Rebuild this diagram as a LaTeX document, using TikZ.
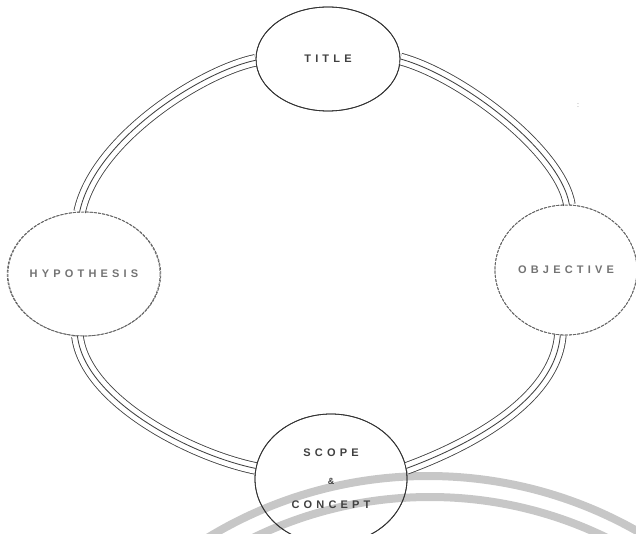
\documentclass[tikz,border=0pt]{standalone}
\usepackage{fontspec}
\setmainfont{Liberation Sans}
\newfontfamily\labfont[LetterSpace=38]{Liberation Sans}
\usetikzlibrary{shapes.geometric}
\begin{document}
\begin{tikzpicture}[x=1pt,y=-1pt,
  lab/.style={font=\labfont\bfseries\fontsize{11}{13}\selectfont, text=black!75, align=center},
  bub/.style={ellipse, draw=black!80, line width=0.8pt, inner sep=0pt, lab},
  faint/.style={draw=black!60, dash pattern=on 3pt off 1.2pt, text=black!55},
  triple/.style={draw=black!75, line width=12.5pt,
    postaction={draw=white, line width=10.8pt},
    postaction={draw=black!75, line width=0.85pt}},
  wm/.style={draw=black!22, line width=8pt}]
\useasboundingbox (0,0) rectangle (636,534);
% faint watermark arcs
\begin{scope}
  \clip (0,0) rectangle (636,534);
  \draw[wm] (428,900) circle[radius=424];
  \draw[wm] (430,900) circle[radius=403];
\end{scope}
% nodes
\node[bub, minimum width=144, minimum height=104] (title) at (328,59) {TITLE};
\node[bub, faint, minimum width=152, minimum height=124] (hyp) at (84,274) {HYPOTHESIS};
\node[bub, faint, minimum width=142, minimum height=130] (obj) at (566,270) {OBJECTIVE};
\node[bub, minimum width=152, minimum height=130] (scope) at (331,479)
  {SCOPE\\[15pt]{\fontsize{9}{10}\selectfont\&}\\[11pt]CONCEPT};
% connectors (triple lines)
\draw[triple] (title.181) .. controls (200,72) and (95,140) .. (hyp.94);
\draw[triple] (title.0) .. controls (460,75) and (560,150) .. (obj.87);
\draw[triple] (hyp.264) .. controls (85,400) and (190,455) .. (scope.172);
\draw[triple] (obj.265) .. controls (555,400) and (470,445) .. (scope.8);
% redraw borders over connector ends
\draw[black!80, line width=0.8pt] (title.center) ellipse[x radius=72, y radius=52];
\draw[black!60, line width=0.8pt, dash pattern=on 3pt off 1.2pt] (hyp.center) ellipse[x radius=76, y radius=62];
\draw[black!60, line width=0.8pt, dash pattern=on 3pt off 1.2pt] (obj.center) ellipse[x radius=71, y radius=65];
\draw[black!80, line width=0.8pt] (scope.center) ellipse[x radius=76, y radius=65];
\node[text=black!50, font=\fontsize{7}{8}\selectfont] (colon) at (578,106) {:};
\end{tikzpicture}
\end{document}
